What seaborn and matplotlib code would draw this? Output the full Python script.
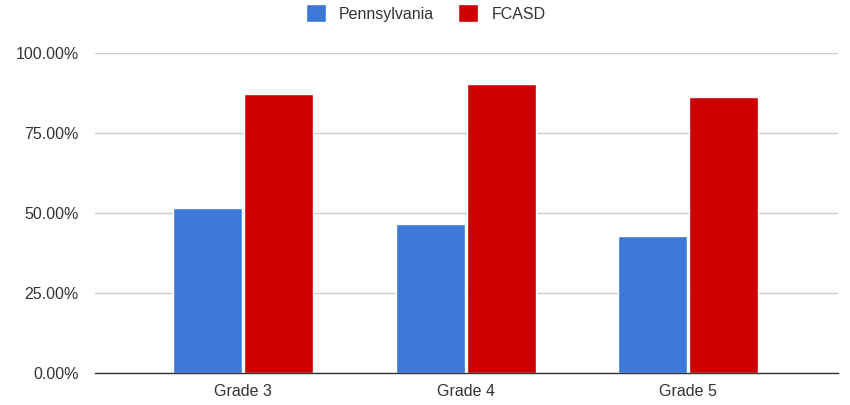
import pandas as pd
import seaborn as sns
import matplotlib.pyplot as plt
from matplotlib.ticker import FuncFormatter

grades = ["Grade 3", "Grade 4", "Grade 5"]
pennsylvania = [51.5, 46.4, 42.8]
fcasd = [87.0, 90.2, 86.0]
series = ["Pennsylvania", "FCASD"]
colors = ["#3c78d8", "#cc0000"]

df = pd.DataFrame({
    "grade": grades * 2,
    "value": pennsylvania + fcasd,
    "series": [series[0]] * 3 + [series[1]] * 3,
})

sns.set_style("white")
plt.rcParams['font.family'] = ['Liberation Sans', 'DejaVu Sans']

fig = plt.figure(figsize=(8.5, 4.05), dpi=100)
ax = fig.add_axes([0.112, 0.079, 0.874, 0.791])

sns.barplot(data=df, x="grade", y="value", hue="series", palette=colors,
            width=0.64, gap=0.03, saturation=1, ax=ax, legend=True)

ax.set_ylim(0, 100)
ax.set_xlim(-0.665, 2.674)
ax.set_yticks([0, 25, 50, 75, 100])
ax.yaxis.set_major_formatter(FuncFormatter(lambda v, p: f"{v:.2f}%"))
ax.grid(axis="y", color="#cccccc", linewidth=1)
ax.set_axisbelow(True)
for s in ["top", "right", "left"]:
    ax.spines[s].set_visible(False)
ax.spines["bottom"].set_color("#333333")
ax.spines["bottom"].set_linewidth(1)
ax.tick_params(axis="both", length=0, labelsize=11.5, labelcolor="#333333", pad=8)
ax.tick_params(axis="y", pad=12)
ax.set_xlabel("")
ax.set_ylabel("")

# legend with square swatches, centred above the plot
handles, labels = ax.get_legend_handles_labels()
ax.legend(handles, labels, loc="center", bbox_to_anchor=(0.445, 1.123),
          ncol=2, frameon=False, fontsize=11.5, handlelength=1.25, handleheight=1.35,
          columnspacing=1.5, handletextpad=0.85, labelcolor="#333333")

plt.savefig("out.png", dpi=100)
